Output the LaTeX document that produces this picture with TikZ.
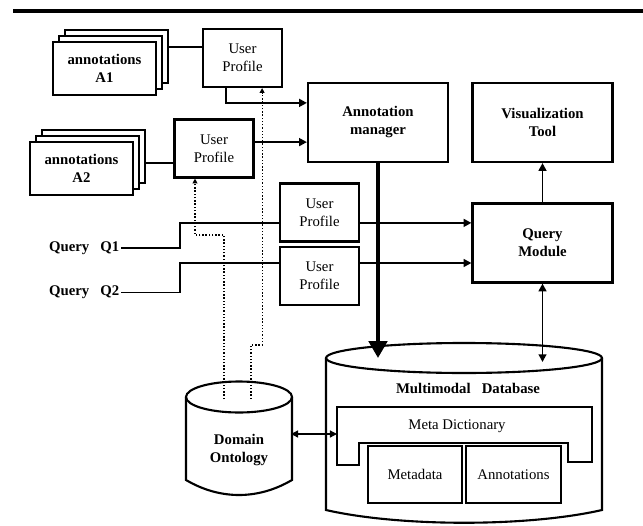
\documentclass[tikz,border=0pt]{standalone}
\usepackage{fontspec}
\setmainfont{Liberation Serif}
\usetikzlibrary{arrows.meta}

\begin{document}
\begin{tikzpicture}[x=0.025cm,y=-0.025cm,
  font=\fontsize{10.5}{12.8}\selectfont,
  box/.style={draw, line width=1.5pt, align=center, inner sep=0pt},
  sheet/.style={draw, line width=0.9pt, fill=white, align=center,
    minimum width=2.575cm, minimum height=1.325cm, font=\fontsize{10.5}{12.8}\selectfont\bfseries},
  profile/.style={box, minimum width=1.975cm, minimum height=1.45cm},
  block/.style={box, minimum width=3.5cm, minimum height=1.975cm, font=\fontsize{10.5}{12.8}\selectfont\bfseries},
  query/.style={anchor=east, inner sep=1pt, font=\fontsize{10.5}{12.8}\selectfont\bfseries},
  link/.style={line width=1.4pt},
  arrow/.style={link, -{Triangle[length=5.5pt,width=5.5pt]}},
  dotarrow/.style={line width=0.8pt, dash pattern=on 1pt off 1.3pt, -{Triangle[length=3.5pt,width=3.5pt]}},
  cyl/.style={line width=1.5pt}]
  \useasboundingbox (0,0) rectangle (643,525);

  %% top rule
  \draw[line width=2.2pt] (13,11) -- (643,11);

  %% annotation sheets
  \node[sheet] (a1c) at (116.5,56.5) {};
  \node[sheet] (a1b) at (110.5,62.5) {};
  \node[sheet] (a1a) at (104.5,68.5) {annotations\\A1};
  \node[sheet] (a2c) at (93.5,156.5) {};
  \node[sheet] (a2b) at (87.5,162.5) {};
  \node[sheet] (a2a) at (81.5,168.5) {annotations\\A2};

  %% user profiles
  \node[profile] (up1) at (242.5,58) {User\\Profile};
  \node[profile] (up2) at (214,148.5) {User\\Profile};
  \node[profile] (up3) at (319.5,212.5) {User\\Profile};
  \node[profile] (up4) at (319.5,276) {User\\Profile};

  %% blocks
  \node[block] (am) at (378,122.5) {Annotation\\manager};
  \node[block] (vt) at (542.5,122.5) {Visualization\\Tool};
  \node[block] (qm) at (542.5,243) {Query\\Module};

  %% queries
  \node[query] (q1) at (121,248) {Query~~~Q1};
  \node[query] (q2) at (121,292.5) {Query~~~Q2};

  %% domain ontology
  \draw[cyl] (186,397) -- (186,480) .. controls (220,500) and (258,500) .. (292,480) -- (292,397);
  \draw[cyl] (239,397) ellipse [x radius=53, y radius=15.5];
  \node[align=center, font=\fontsize{10.5}{12.8}\selectfont\bfseries] (onto) at (239,450) {Domain\\Ontology};
  \coordinate (ot) at (239,399);
  \coordinate (onto-e) at (291,434);

  %% multimodal database
  \draw[cyl] (326,358) -- (326,510) .. controls (400,527) and (528,527) .. (602,510) -- (602,358);
  \draw[cyl] (464,358) ellipse [x radius=138, y radius=15];
  \node[font=\fontsize{10.5}{12.8}\selectfont\bfseries] (db) at (468,388) {Multimodal~~~Database};
  \coordinate (db-a) at (378,358);
  \coordinate (db-q) at (542.5,362);

  %% meta dictionary
  \draw[cyl] (337,407) -- (592,407) -- (592,462) -- (568,462) -- (568,443)
    -- (359,443) -- (359,465) -- (337,465) -- cycle;
  \node (md) at (457,426) {Meta Dictionary};
  \coordinate (md-w) at (337,434);
  \node[box, minimum width=2.35cm, minimum height=1.425cm] (meta) at (415,474.5) {Metadata};
  \node[box, minimum width=2.375cm, minimum height=1.425cm] (ann) at (513.5,474.5) {Annotations};

  %% connectors
  \draw[link] ([yshift=0.28cm]up1.west) -- ([yshift=0.28cm]up1.west -| a1c.east);
  \draw[link] ([yshift=-0.36cm]up2.west) -- ([yshift=-0.36cm]up2.west -| a2c.east);
  \draw[arrow] ([xshift=-0.41cm]up1.south) |- ([yshift=0.49cm]am.west);
  \draw[arrow] ([yshift=-0.49cm]am.west -| up2.east) -- ([yshift=-0.49cm]am.west);
  \draw[link] (q1.east) -- ++(59,0) |- ([yshift=-0.26cm]up3.west);
  \draw[link] (q2.east) -- ++(59,0) |- ([yshift=0.325cm]up4.west);
  \draw[arrow] ([yshift=-0.26cm]up3.east) -- ([yshift=-0.26cm]up3.east -| qm.west);
  \draw[arrow] ([yshift=0.325cm]up4.east) -- ([yshift=0.325cm]up4.east -| qm.west);
  \draw[arrow] (qm.north) -- (vt.south);
  \draw[link, {Triangle[length=5.5pt,width=5.5pt]}-{Triangle[length=5.5pt,width=5.5pt]}] (qm.south) -- (db-q);
  \draw[line width=2.8pt, -{Triangle[length=12pt,width=13pt]}] (am.south) -- (db-a);
  \draw[line width=0.9pt, {Triangle[length=5pt,width=5pt]}-{Triangle[length=5pt,width=5pt]}] (onto-e) -- (md-w);
  \draw[dotarrow] ([xshift=-0.375cm]ot) -- ++(0,-164) -| ([xshift=-0.475cm]up2.south);
  \draw[dotarrow] ([xshift=0.3cm]ot) -- ++(0,-54) -| ([xshift=0.49cm]up1.south);

\end{tikzpicture}
\end{document}
